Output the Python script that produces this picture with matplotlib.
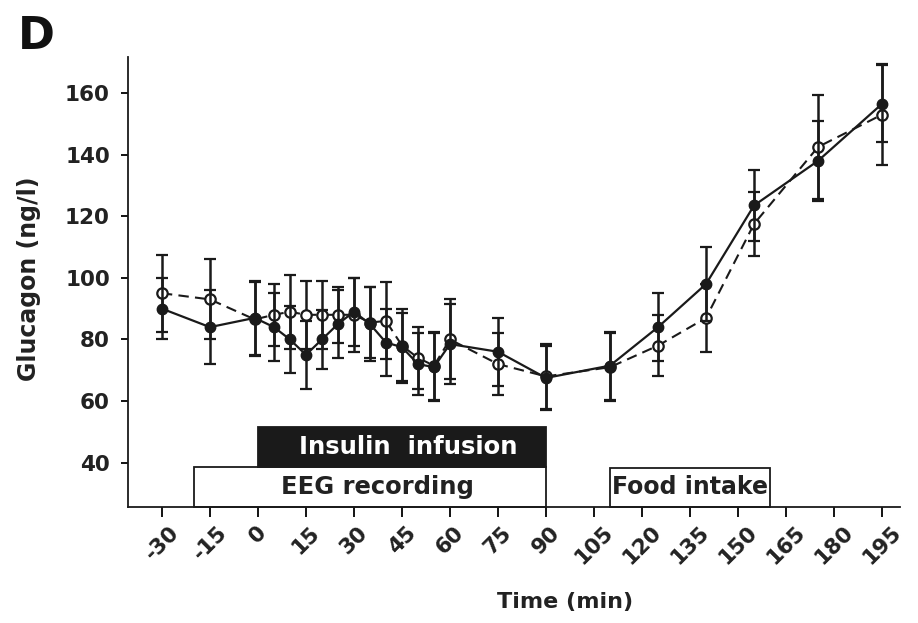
import matplotlib
matplotlib.use("Agg")
import matplotlib.pyplot as plt
from matplotlib.patches import Rectangle

plt.rcParams['font.family'] = ['DejaVu Sans']
plt.rcParams['font.weight'] = 'bold'

# Sampling times (min)
time_min = [-30, -15, -1, 5, 10, 15, 20, 25, 30, 35, 40, 45, 50, 55, 60,
            75, 90, 110, 125, 140, 155, 175, 195]

# Glucagon (ng/l), filled-circle condition (solid line)
glucagon_solid = [90, 84, 87, 84, 80, 75, 80, 85, 89, 85, 79, 77.5, 72, 71,
                  78.5, 76, 67.5, 71.5, 84, 98, 123.5, 138, 156.5]
sem_solid = [10, 12, 12, 11, 11, 11, 9.5, 11, 11, 12, 11, 11, 10, 11,
             13, 11, 10.5, 11, 11, 12, 11.5, 13, 12.5]

# Glucagon (ng/l), open-circle condition (dashed line)
glucagon_open = [95, 93, 86.5, 88, 89, 88, 88, 88, 88, 85.5, 86, 78, 74,
                 71.5, 80, 72, 68, 71, 78, 87, 117.5, 142.5, 153]
sem_open = [12.5, 13, 12, 10, 12, 11, 11, 9, 12, 11.5, 12.5, 12, 10, 11,
            13, 10, 10.5, 11, 10, 11, 10.5, 17, 16.5]

x_ticks = list(range(-30, 196, 15))
y_ticks = [40, 60, 80, 100, 120, 140, 160]

y_min, y_max = 25.6, 171.7

# Protocol phases: (label, start, end, bottom, top, fill, text colour, size, text shift)
phases = [
    ("EEG recording", -20, 90, y_min, 38.6, "white", "#222222", 17.5, 2.3),
    ("Insulin  infusion", 0, 90, 38.6, 51.6, "#1a1a1a", "white", 17.5, 2.0),
    ("Food intake", 110, 160, y_min, 38.4, "white", "#222222", 17, 0.0),
]

fig = plt.figure(figsize=(9.18, 6.23), dpi=100)
ax = fig.add_axes([0.1394, 0.1862, 0.8410, 0.7223])

ax.set_xlim(-40.6, 200.6)
ax.set_ylim(y_min, y_max)

for label, start, end, bottom, top, face, tcolor, fs, shift in phases:
    ax.add_patch(Rectangle((start, bottom), end - start, top - bottom,
                           facecolor=face, edgecolor="#1a1a1a", lw=1.3,
                           zorder=1, clip_on=False))
    ax.text((start + end) / 2 + shift, (bottom + top) / 2, label,
            ha="center", va="center", fontsize=fs, fontweight="bold",
            color=tcolor, zorder=2)

# Open circles, dashed
ax.errorbar(time_min, glucagon_open, yerr=sem_open, fmt="none",
            ecolor="#1a1a1a", elinewidth=1.8, capsize=4.5, capthick=1.6,
            zorder=3)
ax.plot(time_min, glucagon_open, linestyle=(0, (5, 3)), color="#1a1a1a",
        lw=1.5, marker="o", markersize=7.5, markerfacecolor="white",
        markeredgecolor="#1a1a1a", markeredgewidth=1.6, zorder=4)

# Filled circles, solid
ax.errorbar(time_min, glucagon_solid, yerr=sem_solid, fmt="none",
            ecolor="#1a1a1a", elinewidth=1.8, capsize=4.5, capthick=1.6,
            zorder=5)
ax.plot(time_min, glucagon_solid, linestyle="-", color="#1a1a1a", lw=1.6,
        marker="o", markersize=7.5, markerfacecolor="#1a1a1a",
        markeredgecolor="#1a1a1a", zorder=6)

for side in ("top", "right"):
    ax.spines[side].set_visible(False)
for side in ("left", "bottom"):
    ax.spines[side].set_linewidth(1.3)
    ax.spines[side].set_color("#1a1a1a")

ax.set_xticks(x_ticks)
ax.set_xticklabels([str(v) for v in x_ticks], rotation=45, ha="center",
                   fontsize=15.5, fontweight="bold", color="#222222")
ax.set_yticks(y_ticks)
ax.set_yticklabels([str(v) for v in y_ticks], fontsize=15.5,
                   fontweight="bold", color="#222222")
ax.tick_params(axis="x", direction="out", length=7, width=1.3, pad=4)
ax.tick_params(axis="y", direction="out", length=5, width=1.3, pad=8)

ax.set_xlabel("Time (min)", fontsize=16, fontweight="bold", color="#222222")
ax.xaxis.set_label_coords(0.566, -0.19)
ax.set_ylabel("Glucagon (ng/l)", fontsize=17, fontweight="bold",
              color="#222222")
ax.yaxis.set_label_coords(-0.113, 0.507)

fig.text(18 / 918, 1 - 49 / 623, "D", fontsize=32, fontweight="bold",
         ha="left", va="baseline", color="#111111")

fig.savefig("out.png", dpi=100)
